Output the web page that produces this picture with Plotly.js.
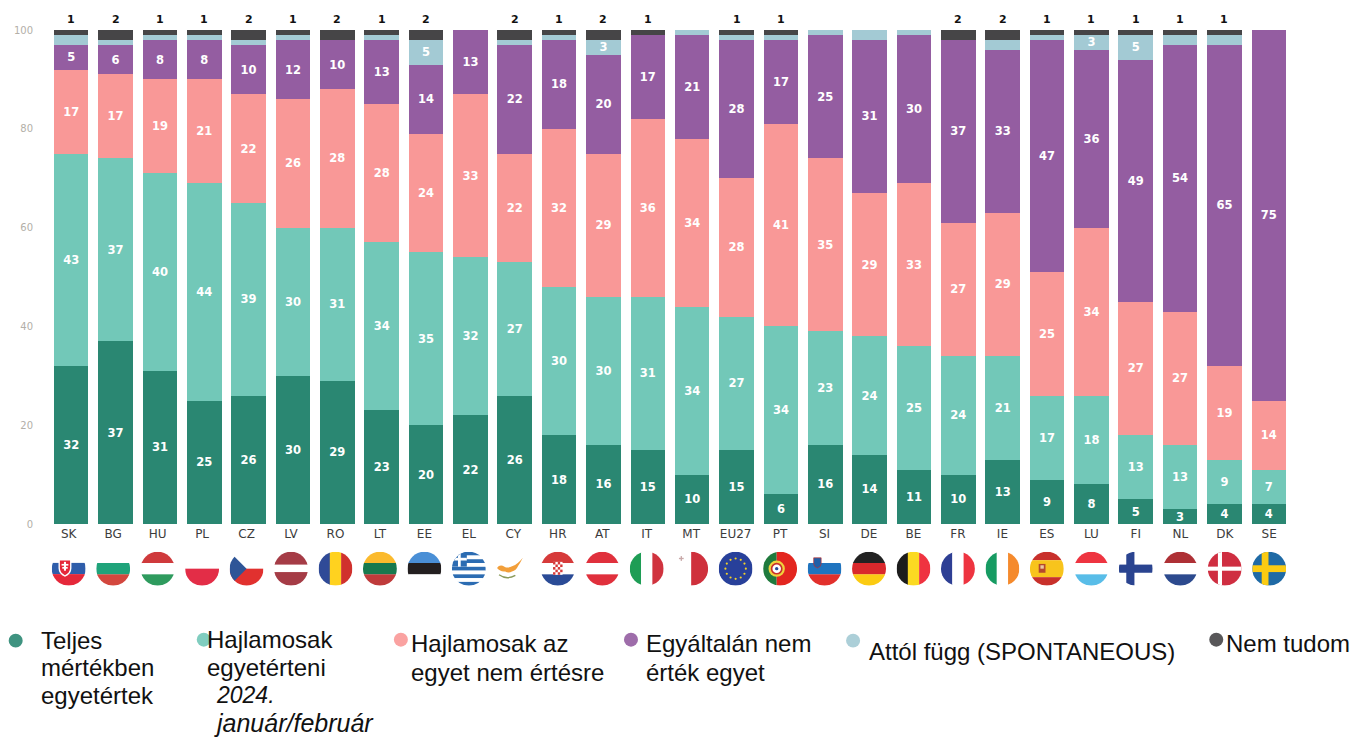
<!DOCTYPE html>
<html>
<head>
<meta charset="utf-8">
<script src="https://cdn.plot.ly/plotly-3.0.1.min.js"></script>
<style>html,body{margin:0;padding:0;background:#fff;overflow:hidden}#chart{width:1352px;height:738px}</style>
</head>
<body>
<div id="chart"></div>
<script>
var countries = ["SK","BG","HU","PL","CZ","LV","RO","LT","EE","EL","CY","HR","AT","IT","MT","EU27","PT","SI","DE","BE","FR","IE","ES","LU","FI","NL","DK","SE"];
var totallyAgree    = [32,37,31,25,26,30,29,23,20,22,26,18,16,15,10,15,6,16,14,11,10,13,9,8,5,3,4,4];
var tendAgree       = [43,37,40,44,39,30,31,34,35,32,27,30,30,31,34,27,34,23,24,25,24,21,17,18,13,13,9,7];
var tendDisagree    = [17,17,19,21,22,26,28,28,24,33,22,32,29,36,34,28,41,35,29,33,27,29,25,34,27,27,19,14];
var totallyDisagree = [5,6,8,8,10,12,10,13,14,13,22,18,20,17,21,28,17,25,31,30,37,33,47,36,49,54,65,75];
var depends         = [2,1,1,1,1,1,0,1,5,0,1,1,3,0,1,1,1,1,2,1,0,2,1,3,5,2,2,0];
var dontKnow        = [1,2,1,1,2,1,2,1,2,0,2,1,2,1,0,1,1,0,0,0,2,2,1,1,1,1,1,0];
var seriesColors = ["#2A8772","#72C8B8","#F99897","#945DA1","#A3CAD4","#464547"];
var seriesNames = ["Teljes mértékben egyetértek","Hajlamosak egyetérteni","Hajlamosak az egyet nem értésre","Egyáltalán nem értek egyet","Attól függ (SPONTANEOUS)","Nem tudom"];
var yTicks = [0,20,40,60,80,100];

var W=1352,H=738,L=49.3,R=61.3,T=30,B=213.7;
var px=function(x){return (x-L)/(W-L-R);};
var py=function(y){return 1-(y-T)/(H-T-B);};

function bar(vals,i,labelFn){
  return {type:'bar',x:countries,y:vals,name:seriesNames[i],marker:{color:seriesColors[i]},
    text:vals.map(labelFn),textposition:'inside',insidetextanchor:'middle',textangle:0,constraintext:'none',
    insidetextfont:{family:'DejaVu Sans',size:11.5,color:'#ffffff',weight:700},hoverinfo:'y+name',showlegend:false};
}
var all=function(v){return String(v);};
var traces=[
  bar(totallyAgree,0,all),bar(tendAgree,1,all),bar(tendDisagree,2,all),bar(totallyDisagree,3,all),
  bar(depends,4,function(v){return v>=3?String(v):'';}),
  bar(dontKnow,5,function(){return '';}),
  {type:'scatter',mode:'markers',xaxis:'x2',yaxis:'y',x:countries,y:countries.map(function(){return 0;}),
   marker:{opacity:0,size:1},hoverinfo:'skip',showlegend:false}
];

function stripesH(a){var n=a.length,s='';a.forEach(function(c,i){s+='<rect x="0" y="'+(i*100/n)+'" width="100" height="'+(100/n+0.5)+'" fill="'+c+'"/>';});return s;}
function stripesV(a){var n=a.length,s='';a.forEach(function(c,i){s+='<rect y="0" x="'+(i*100/n)+'" height="100" width="'+(100/n+0.5)+'" fill="'+c+'"/>';});return s;}
function r(x,y,w,h,c){return '<rect x="'+x+'" y="'+y+'" width="'+w+'" height="'+h+'" fill="'+c+'"/>';}
var WHT='#ffffff';
function stars(){var s='';for(var i=0;i<12;i++){var a=i*Math.PI/6;s+='<circle cx="'+(50+30*Math.cos(a))+'" cy="'+(50+30*Math.sin(a))+'" r="3.2" fill="#F5D327"/>';}return s;}
function hrCheck(){var s=r(36,30,28,38,WHT);for(var i=0;i<4;i++)for(var j=0;j<5;j++)if((i+j)%2==0)s+=r(36+i*7,30+j*7.6,7,7.6,'#D63A3A');return s;}
var flagSvg={
 SK:r(0,33,100,33,'#2F5DAA')+r(0,66,100,34,'#E5283A')+'<path d="M20 22h38v26q0 18-19 26q-19-8-19-26z" fill="#fff"/><path d="M24 26h30v22q0 14-15 21q-15-7-15-21z" fill="#E5283A"/>'+r(36,30,6,26,WHT)+r(29,36,20,5,WHT)+r(31,45,16,5,WHT),
 BG:stripesH([WHT,'#1FA37A','#D3473E']),
 HU:stripesH(['#CF3A3C',WHT,'#2E9B5E']),
 PL:stripesH([WHT,'#E32D47']),
 CZ:stripesH([WHT,'#E1312F'])+'<polygon points="0,0 50,50 0,100" fill="#2E5597"/>',
 LV:r(0,0,100,38,'#A53C46')+r(0,60,100,40,'#A53C46'),
 RO:stripesV(['#2F4A97','#FFD21F','#D0312D']),
 LT:stripesH(['#FBBA2D','#17794E','#BF3B3B']),
 EE:stripesH(['#4A8FD6','#231F20',WHT]),
 EL:stripesH(['#2C6CB2',WHT,'#2C6CB2',WHT,'#2C6CB2',WHT,'#2C6CB2',WHT,'#2C6CB2'])+r(0,0,44,44,'#2C6CB2')+r(18,0,8,44,WHT)+r(0,18,44,8,WHT),
 CY:'<path d="M2 48 Q10 36 24 44 Q34 50 48 42 Q62 38 78 18 Q70 34 64 42 Q58 56 46 58 Q36 64 26 58 Q12 60 2 48z" fill="#F29F3A"/><path d="M8 68 Q30 84 56 70" fill="none" stroke="#8A9A5B" stroke-width="4"/>',
 HR:stripesH(['#D63A3A',WHT,'#2A4B96'])+hrCheck(),
 AT:stripesH(['#E0303C',WHT,'#E0303C']),
 IT:stripesV(['#1E9D55',WHT,'#D0333E']),
 MT:stripesV([WHT,'#CF303C'])+r(14,18,14,4,'#C9A9A9')+r(19,13,4,14,'#C9A9A9'),
 EU27:r(0,0,100,100,'#28409A')+stars(),
 PT:r(0,0,40,100,'#1F7A3D')+r(40,0,60,100,'#E3261F')+'<circle cx="40" cy="50" r="24" fill="#F0D23C"/><circle cx="40" cy="50" r="15" fill="#fff" stroke="#C8302B" stroke-width="5"/><circle cx="40" cy="50" r="5" fill="#2A4B96"/>',
 SI:stripesH([WHT,'#1F74BF','#E2302C'])+'<path d="M18 18h22v18q0 8-11 12q-11-4-11-12z" fill="#1F5FA8" stroke="#C8302B" stroke-width="2"/>',
 DE:stripesH(['#222222','#D9282C','#FBCB12']),
 BE:stripesV(['#1C1C1C','#FBDA22','#EF3340']),
 FR:stripesV(['#2E3F94',WHT,'#EE3440']),
 IE:stripesV(['#169B62',WHT,'#F58A2C']),
 ES:r(0,0,100,25,'#C8302B')+r(0,25,100,50,'#F8C41C')+r(0,75,100,25,'#C8302B')+r(26,36,20,26,'#B5472D')+r(31,40,10,10,'#E9C9A0'),
 LU:stripesH(['#EE3440',WHT,'#59BDE8']),
 FI:r(0,38,100,24,'#2A4490')+r(22,0,24,100,'#2A4490'),
 NL:stripesH(['#AE3035',WHT,'#2C4A8E']),
 DK:r(0,0,100,100,'#CF2E41')+r(0,44,100,12,WHT)+r(30,0,12,100,WHT),
 SE:r(0,0,100,100,'#1F6AA5')+r(0,40,100,20,'#FBCB12')+r(28,0,20,100,'#FBCB12')
};
var flagImages=countries.map(function(c,i){
  var body=flagSvg[c];
  var svg='<svg xmlns="http://www.w3.org/2000/svg" viewBox="0 0 100 100" width="100" height="100"><defs><clipPath id="c"><circle cx="50" cy="50" r="50"/></clipPath></defs><g clip-path="url(#c)">'+body+'</g></svg>';
  return {source:'data:image/svg+xml;charset=utf-8,'+encodeURIComponent(svg),xref:'x2',yref:'paper',x:i,y:py(569),
    sizex:34/44.44,sizey:34/(H-T-B),xanchor:'center',yanchor:'middle',sizing:'contain',layer:'above'};
});

var legendDots=[[16,641,0],[204,640,1],[401,640,2],[631,640,3],[853,641,4],[1216,640,5]];
var shapes=legendDots.map(function(d){
  return {type:'circle',xref:'paper',yref:'paper',x0:px(d[0]-7),x1:px(d[0]+7),y0:py(d[1]+7),y1:py(d[1]-7),
    fillcolor:seriesColors[d[2]],line:{width:0},opacity:0.9};
});
var legendText=[
 ["Teljes",41,641,24],["mértékben",41,668,24],["egyetértek",41,696,24],
 ["Hajlamosak",207,640,24],["egyetérteni",207,668,24],
 ["<i>2024.</i>",216,695,23],["<i>január/február</i>",214,723,25],
 ["Hajlamosak az",411,644,24],["egyet nem értésre",411,673,24],
 ["Egyáltalán nem",646,644,24],["érték egyet",646,673,24],
 ["Attól függ (SPONTANEOUS)",869,652,24],["Nem tudom",1226,644,24]
];
var annotations=legendText.map(function(t){
  return {xref:'paper',yref:'paper',x:px(t[1]),y:py(t[2]),text:t[0],showarrow:false,xanchor:'left',yanchor:'middle',
    xshift:-2,font:{family:'Liberation Sans',size:t[3],color:'#111'},align:'left'};
});
countries.forEach(function(c,i){
  if(dontKnow[i]>0) annotations.push({xref:'x',yref:'y',x:c,y:100,text:String(dontKnow[i]),showarrow:false,
    xanchor:'center',yanchor:'bottom',yshift:2,font:{family:'DejaVu Sans',size:11,color:'#111',weight:700}});
});

var layout={
  width:W,height:H,barmode:'stack',bargap:0.22,paper_bgcolor:'#fff',plot_bgcolor:'#fff',showlegend:false,
  margin:{l:L,r:R,t:T,b:B,pad:0},
  xaxis:{type:'category',categoryorder:'array',categoryarray:countries,range:[-0.5,27.5],showticklabels:false,ticks:'',showgrid:false,zeroline:false,showline:false},
  xaxis2:{type:'category',overlaying:'x',anchor:'y',side:'bottom',categoryorder:'array',categoryarray:countries,
    range:[(L-69)/44.44,(W-R-69)/44.44],showgrid:false,zeroline:false,showline:false,ticks:'',tickangle:0,
    tickfont:{family:'DejaVu Sans',size:12,color:'#3c3c3c'},ticklabelstandoff:1},
  yaxis:{range:[0,100],tickvals:yTicks,showgrid:false,zeroline:false,showline:false,ticks:'',
    tickfont:{family:'DejaVu Sans',size:10,color:'#b3afa8'},ticklabelstandoff:15},
  shapes:shapes,annotations:annotations,images:flagImages
};
Plotly.newPlot('chart',traces,layout,{displayModeBar:false,responsive:false});
</script>
</body>
</html>
